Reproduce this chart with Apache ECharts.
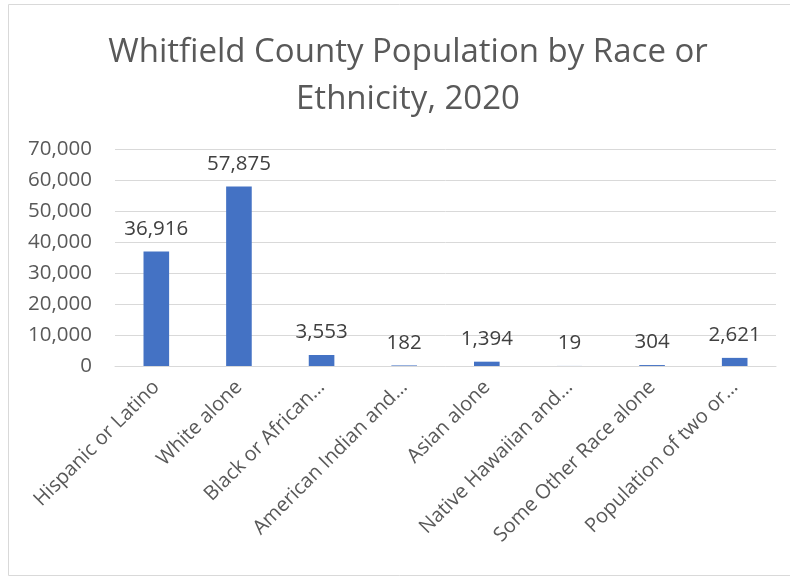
<!DOCTYPE html>
<html><head><meta charset="utf-8">
<script src="https://cdn.jsdelivr.net/npm/echarts@6/dist/echarts.min.js"></script>
<style>html,body{margin:0;padding:0;background:#fff}#c{width:790px;height:579px}</style>
</head><body><div id="c"></div>
<script>
const categories = ["Hispanic or Latino","White alone","Black or African…","American Indian and…","Asian alone","Native Hawaiian and…","Some Other Race alone","Population of two or…"];
const values = [36916, 57875, 3553, 182, 1394, 19, 304, 2621];
const yTicks = [0,10000,20000,30000,40000,50000,60000,70000];
const titleText = "Whitfield County Population by Race or\nEthnicity, 2020";

const fmt = v => v.toLocaleString('en-US');
const chart = echarts.init(document.getElementById('c'));
const font = '"Open Sans", sans-serif';
chart.setOption({
  animation:false,
  textStyle:{fontFamily:font},
  graphic:[{type:'rect',shape:{x:8.5,y:4.5,width:800,height:571},style:{fill:'none',stroke:'#d9d9d9',lineWidth:1}}],
  title:{text:titleText,left:403,top:24,textAlign:'center',textStyle:{fontFamily:font,fontSize:33,fontWeight:'normal',color:'#595959',lineHeight:47}},
  grid:{left:115,right:14,top:149,height:217,containLabel:false},
  xAxis:{type:'category',data:categories,
    axisLine:{lineStyle:{color:'#d9d9d9'}},axisTick:{show:false},
    axisLabel:{rotate:45,interval:0,fontSize:20,color:'#595959',fontFamily:font,margin:18}},
  yAxis:{type:'value',min:yTicks[0],max:yTicks[yTicks.length-1],interval:10000,
    axisLine:{show:false},axisTick:{show:false},
    splitLine:{lineStyle:{color:'#d9d9d9'}},
    axisLabel:{fontSize:20.5,color:'#595959',fontFamily:font,margin:23,formatter:fmt}},
  series:[{type:'bar',data:values,barWidth:'31%',itemStyle:{color:'#4472c4'},
    label:{show:true,position:'top',distance:12,fontSize:20.5,color:'#404040',fontFamily:font,formatter:p=>fmt(p.value)}}]
});
</script></body></html>
